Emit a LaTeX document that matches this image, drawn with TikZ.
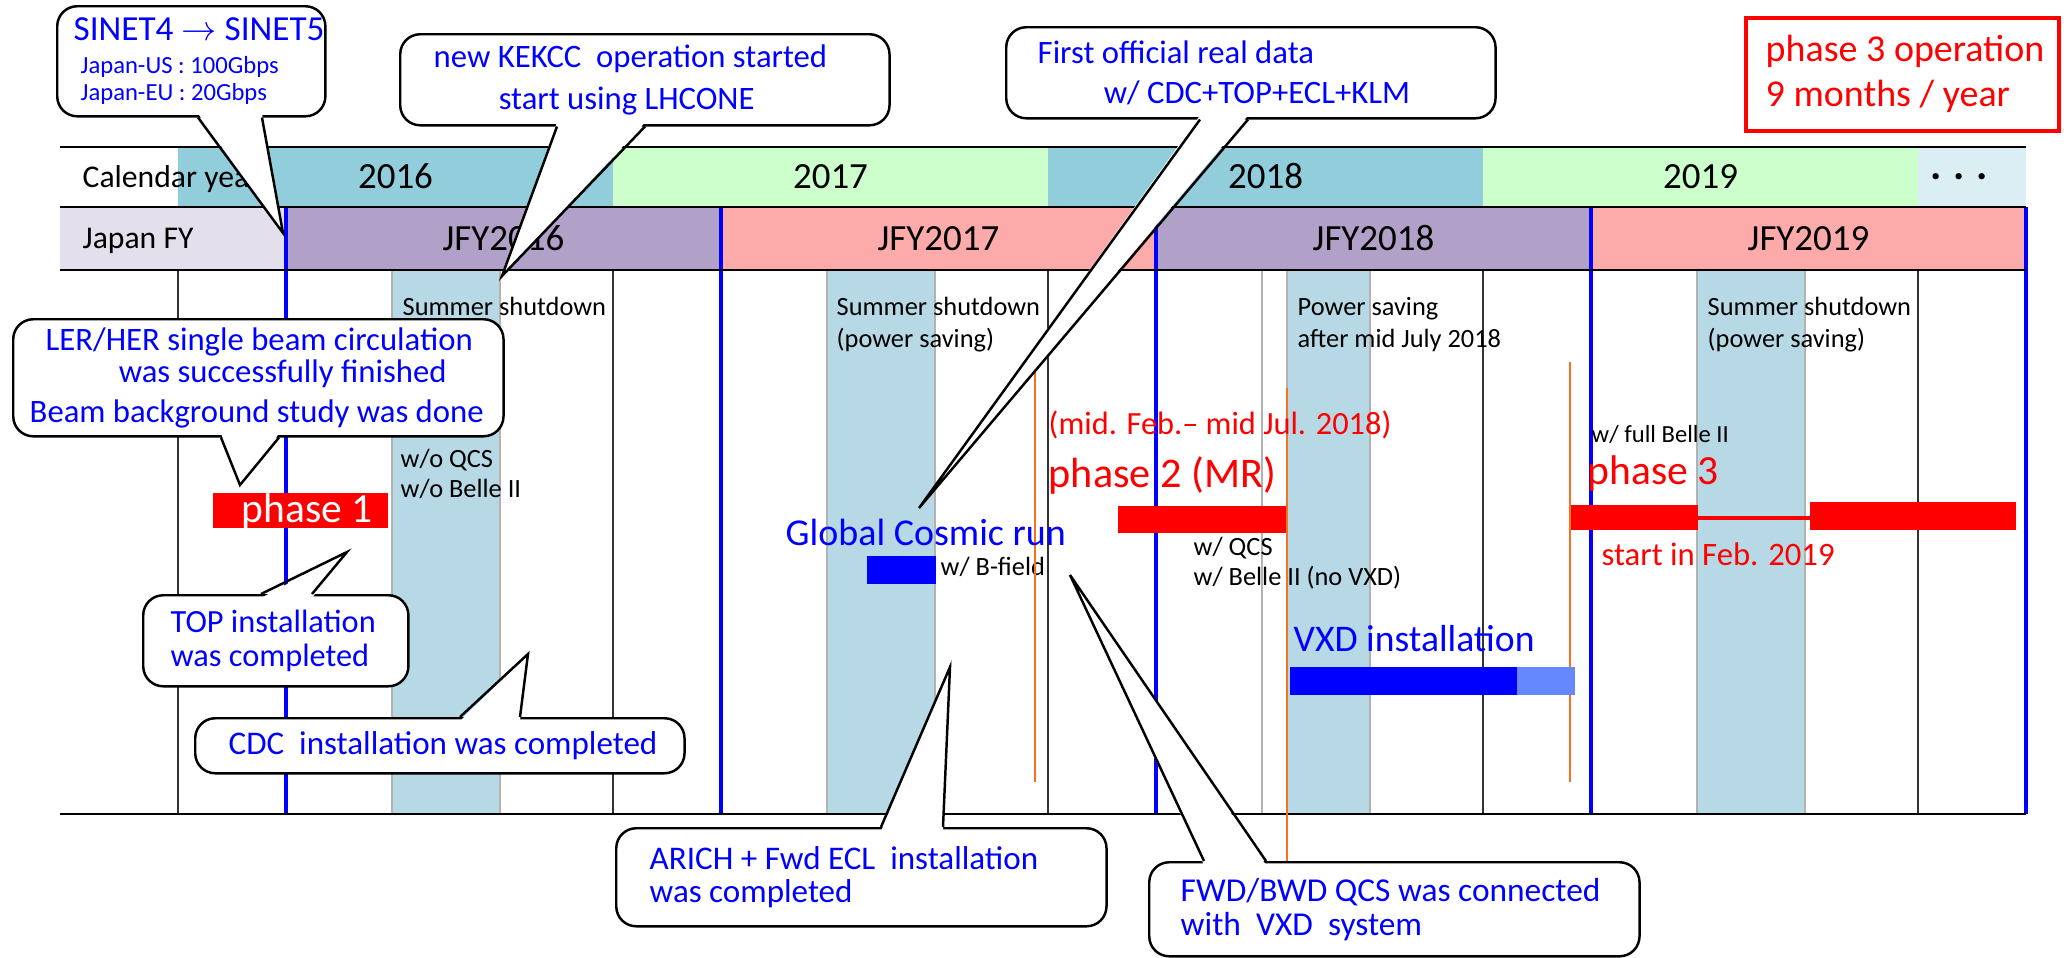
\documentclass[tikz,border=0pt]{standalone}
\usepackage{fontspec}
\setmainfont{Carlito}
\usetikzlibrary{positioning, calc}

\definecolor{calblue}{RGB}{146,205,220}
\definecolor{calgreen}{RGB}{204,255,204}
\definecolor{calmore}{RGB}{218,238,243}
\definecolor{fylabel}{RGB}{228,223,236}
\definecolor{fypurple}{RGB}{177,160,199}
\definecolor{fypink}{RGB}{252,170,170}
\definecolor{shutdown}{RGB}{183,217,229}
\definecolor{runorange}{RGB}{245,115,30}
\definecolor{vxdlight}{RGB}{102,136,255}

\newcommand{\fsz}[2]{\fontsize{#1}{#2}\selectfont}

\tikzset{
    yearlabel/.style={anchor=base, font=\fsz{10.5}{12}}, % years in the two header rows
    rowlabel/.style={anchor=base west, font=\fsz{9}{11}},
    note/.style={anchor=base west, font=\fsz{7.5}{9}}, % small black remarks
    phase/.style={anchor=base west, font=\fsz{11.8}{13}},
    callbox/.style={ % rounded box of a callout
        draw, fill=white,
        line width=0.7pt,
        rounded corners=0.2cm,
        anchor=north west
    },
    calltext/.style={anchor=west, align=left, text=blue},
    tailline/.style={line width=0.7pt},
    rowline/.style={line width=0.8pt},
    yearline/.style={line width=0.45pt, black!80},
    fyline/.style={line width=1pt, blue},
    band/.style={fill=shutdown, draw=gray!60, line width=0.4pt},
    runline/.style={line width=0.8pt, runorange},
}

% tail of a callout: box, side, inward shift, base x1, base x2, tip
\newcommand{\calltail}[6]{%
    \fill[white] ($(#4,0 |- #1.#2)+(0,#3)$) -- (#6) -- ($(#5,0 |- #1.#2)+(0,#3)$) -- cycle;
    \draw[tailline] (#4,0 |- #1.#2) -- (#6) -- (#5,0 |- #1.#2);
}

\begin{document}
\begin{tikzpicture}[x=0.01cm, y=-0.01cm, every node/.style={inner sep=0pt}]
    \useasboundingbox (0,0) rectangle (2064,957);

    % calendar year row
    \foreach \yr/\col [count=\i from 0] in {2016/calblue, 2017/calgreen, 2018/calblue, 2019/calgreen}{
        \fill[\col] ({178+435*\i},147) rectangle ({613+435*\i},207);
        \node[yearlabel] (cy\yr) at ({395.5+435*\i},188) {\yr};
    }
    \fill[calmore] (1918,147) rectangle (2026,207);
    \node[font=\fsz{12}{12}\bfseries] (cymore) at (1959,177) {.\hspace{3.4pt}.\hspace{3.4pt}.};
    \node[rowlabel] (calrow) at (82,187) {Calendar year};

    % Japan fiscal year row
    \fill[fylabel] (60,207) rectangle (286,270);
    \foreach \yr/\col [count=\i from 0] in {2016/fypurple, 2017/fypink, 2018/fypurple, 2019/fypink}{
        \fill[\col] ({286+435*\i},207) rectangle ({721+435*\i},270);
        \node[yearlabel] (fy\yr) at ({503.5+435*\i},250) {JFY\yr};
    }
    \node[rowlabel] (fyrow) at (82,248) {Japan FY};

    % shutdown periods
    \foreach \xa in {392,827,1697}
        \filldraw[band] (\xa,270) rectangle ({\xa+108},814);
    \filldraw[band] (1287,270) rectangle (1370,814);
    \draw[gray!60, line width=0.45pt] (1262,270) -- (1262,814);

    \foreach \i in {0,...,4}{
        \draw[yearline] ({178+435*\i},270) -- ({178+435*\i},814);
        \draw[fyline] ({286+435*\i},207) -- ({286+435*\i},814);
    }
    \foreach \y in {147,207,270,814}
        \draw[rowline] (60,\y) -- (2026,\y);

    % remarks
    \node[note] (sum16)  at (402,315)  {Summer shutdown};
    \node[note] (noqcs)  at (400,467)  {w/o QCS};
    \node[note] (nobelle) at (400,497) {w/o Belle II};
    \node[note] (sum17)  at (836,315)  {Summer shutdown};
    \node[note] (save17) at (836,347)  {(power saving)};
    \node[note] (save18) at (1297,315) {Power saving};
    \node[note] (july18) at (1297,347) {after mid July 2018};
    \node[note] (sum19)  at (1707,315) {Summer shutdown};
    \node[note] (save19) at (1707,347) {(power saving)};
    \node[note] (bfield) at (940,575)  {w/ B-field};
    \node[note] (withqcs) at (1193,555) {w/ QCS};
    \node[note] (novxd)  at (1193,585) {w/ Belle II (no VXD)};
    \node[note, font=\fsz{7}{8}] (fullbelle) at (1591,442) {w/ full Belle II};

    % run periods
    \draw[runline] (1035,368) -- (1035,782);
    \draw[runline] (1287,388) -- (1287,861);
    \draw[runline] (1570,362) -- (1570,782);

    \fill[red] (213,493) rectangle (388,528);
    \node[phase, text=white] (ph1) at (241,522) {phase 1};

    \node[anchor=base west, text=blue, font=\fsz{10.8}{12}] (cosmic) at (785,545) {Global Cosmic run};
    \fill[blue] (867,556) rectangle (936,584);

    \node[anchor=base west, text=red, font=\fsz{9.2}{11}] (period2) at (1048,434) {(mid. Feb.-- mid Jul. 2018)};
    \node[phase, text=red, font=\fsz{12}{13}] (ph2) at (1048,487) {phase 2 (MR)};
    \fill[red] (1118,506) rectangle (1286,533);

    \node[phase, text=red] (ph3) at (1587,484) {phase 3};
    \fill[red] (1571,505) rectangle (1698,530);
    \draw[red, line width=1.1pt] (1698,518) -- (1810,518);
    \fill[red] (1810,502) rectangle (2016,530);
    \node[anchor=base west, text=red, font=\fsz{9.3}{11}] (start3) at (1601,565) {start in Feb. 2019};

    \node[anchor=base west, text=blue, font=\fsz{10.7}{12}] (vxd) at (1293,651) {VXD installation};
    \fill[blue] (1290,667) rectangle (1517,695);
    \fill[vxdlight] (1517,667) rectangle (1575,695);

    % phase 3 box
    \node[draw=red, line width=1pt, anchor=north west, minimum width=3.13cm, minimum height=1.13cm] (phase3op) at (1744,16) {};
    \node[anchor=west, align=left, text=red, font=\fsz{10.8}{12.8}] (phase3txt) at ([xshift=0.21cm]phase3op.west) {phase 3 operation\\9 months / year};

    % callouts
    \coordinate (sinettip)  at (283,233);
    \coordinate (kekcctip)  at (502,276);
    \coordinate (firsttip)  at (919,508);
    \coordinate (lerhertip) at (240,485);
    \coordinate (toptip)    at (347,552);
    \coordinate (cdctip)    at (528,654);
    \coordinate (arichtip)  at (950,667);
    \coordinate (qcsvxdtip) at (1070,575);

    \node[callbox, minimum width=2.68cm, minimum height=1.10cm] (sinet) at (56,5) {};
    \node[calltext, font=\fsz{7}{7.7}] (sinettxt) at ([xshift=0.17cm]sinet.west)
        {{\fsz{10}{10}SINET4 $\rightarrow$ SINET5}\\[1.7pt]\hspace*{0.07cm}Japan-US : 100Gbps\\\hspace*{0.07cm}Japan-EU : 20Gbps};
    \calltail{sinet}{south}{-4}{198}{262}{sinettip}

    \node[callbox, minimum width=4.89cm, minimum height=0.91cm] (kekcc) at (399,33) {};
    \node[calltext, font=\fsz{9.3}{12}] (kekcctxt) at ([xshift=0.34cm]kekcc.west)
        {new KEKCC\ \ operation started\\\hspace*{0.65cm}start using LHCONE};
    \calltail{kekcc}{south}{-4}{557}{645}{kekcctip}

    \node[callbox, minimum width=4.89cm, minimum height=0.91cm] (first) at (1005,26) {};
    \node[calltext, font=\fsz{9.3}{11.4}] (firsttxt) at ([xshift=0.32cm]first.west)
        {First official real data\\\hspace*{0.66cm}w/ CDC+TOP+ECL+KLM};
    \calltail{first}{south}{-4}{1200}{1248}{firsttip}

    \node[callbox, minimum width=4.9cm, minimum height=1.17cm] (lerher) at (12,318) {};
    \node[calltext, font=\fsz{9.3}{9.1}] (lerhertxt) at ([xshift=0.17cm]lerher.west)
        {\hspace*{0.16cm}LER/HER single beam circulation\\\hspace*{0.89cm}was successfully finished\\[2.3pt]Beam background study was done};
    \calltail{lerher}{south}{-4}{221}{279}{lerhertip}

    \node[callbox, minimum width=2.65cm, minimum height=0.91cm] (topdone) at (142,594) {};
    \node[calltext, font=\fsz{9.2}{9.7}] (toptxt) at ([xshift=0.28cm]topdone.west)
        {TOP installation\\was completed};
    \calltail{topdone}{north}{4}{261}{312}{toptip}

    \node[callbox, minimum width=4.89cm, minimum height=0.55cm] (cdcdone) at (194,717) {};
    \node[calltext, font=\fsz{9.4}{9.4}] (cdctxt) at ([xshift=0.34cm]cdcdone.west)
        {CDC\ \ installation was completed};
    \calltail{cdcdone}{north}{4}{460}{520}{cdctip}

    \node[callbox, minimum width=4.9cm, minimum height=0.98cm] (arich) at (615,827) {};
    \node[calltext, font=\fsz{9.4}{9.4}] (arichtxt) at ([xshift=0.34cm]arich.west)
        {ARICH + Fwd ECL\ \ installation\\was completed};
    \calltail{arich}{north}{4}{881}{943}{arichtip}

    \node[callbox, minimum width=4.9cm, minimum height=0.94cm] (qcsvxd) at (1148,861) {};
    \node[calltext, font=\fsz{9.5}{9.7}] (qcsvxdtxt) at ([xshift=0.32cm]qcsvxd.west)
        {FWD/BWD QCS was connected\\with\ \ VXD\ \ system};
    \calltail{qcsvxd}{north}{4}{1204}{1266}{qcsvxdtip}
\end{tikzpicture}
\end{document}
